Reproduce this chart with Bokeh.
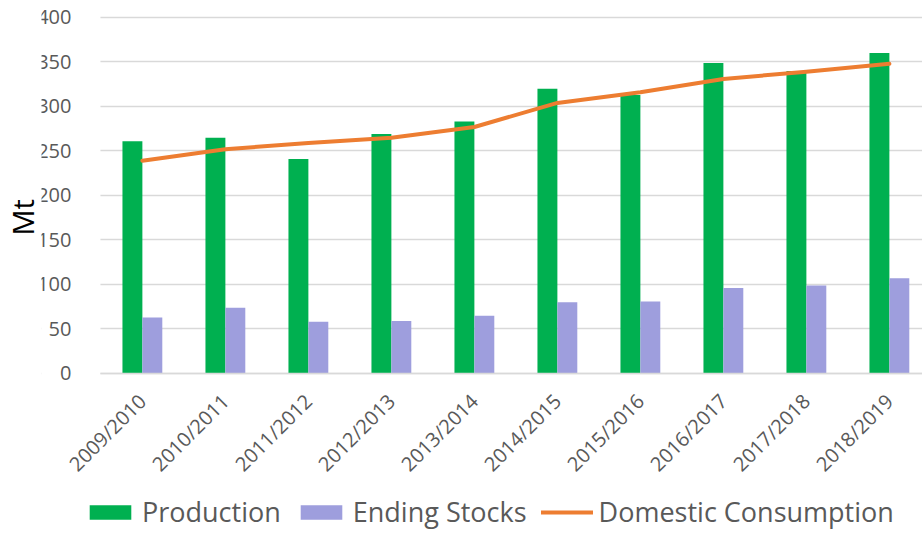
import math
from bokeh.plotting import figure
from bokeh.models import (Range1d, FixedTicker, Legend, LegendItem, ColumnDataSource, Title,
                          BoxAnnotation)
from bokeh.transform import dodge
from bokeh.embed import file_html
from bokeh.resources import INLINE

# ---- data ----
seasons = ["2009/2010", "2010/2011", "2011/2012", "2012/2013", "2013/2014",
           "2014/2015", "2015/2016", "2016/2017", "2017/2018", "2018/2019"]
production = [261, 265, 241, 269, 283, 320, 313, 349, 340, 360]
ending_stocks = [63, 74, 58, 59, 65, 80, 81, 96, 99, 107]
consumption = [239, 252, 259, 265, 277, 304, 316, 331, 339, 348]
y_ticks = [0, 50, 100, 150, 200, 250, 300, 350, 400]

GREEN = "#00B050"
PURPLE = "#9E9EDD"
ORANGE = "#ED7D31"
GRAY_TEXT = "#595959"
GRID = "#D9D9D9"
FONT = "Open Sans"

idx = list(range(len(seasons)))
src = ColumnDataSource(dict(x=idx, prod=production, stock=ending_stocks, cons=consumption))

# plot-area edge (in x data units) where the value axis sits
X_LEFT = -0.505
X_RIGHT = 9.399

p = figure(width=922, height=533, output_backend="svg", toolbar_location=None,
           x_range=Range1d(-1.2154, X_RIGHT), y_range=Range1d(-179.8, 419.1),
           min_border_left=40, min_border_right=0, min_border_top=0, min_border_bottom=0)
p.outline_line_color = None
p.background_fill_color = "white"

p.xgrid.grid_line_color = None
p.ygrid.grid_line_color = GRID
p.ygrid.grid_line_width = 1.5
# keep gridlines out of the value-label column
p.add_layout(BoxAnnotation(right=X_LEFT, fill_color="white", fill_alpha=1.0,
                           line_color=None, level="underlay"))

bw = 0.24
r_prod = p.vbar(x=dodge("x", -bw / 2), top="prod", width=bw, bottom=0, source=src,
                fill_color=GREEN, line_color=None)
r_stock = p.vbar(x=dodge("x", bw / 2), top="stock", width=bw, bottom=0, source=src,
                 fill_color=PURPLE, line_color=None)
r_cons = p.line(x="x", y="cons", source=src, line_color=ORANGE, line_width=4,
                line_cap="round", line_join="round")

# category axis drawn at y = 0
p.xaxis.fixed_location = 0
p.xaxis.bounds = (X_LEFT, X_RIGHT)
p.xaxis.ticker = FixedTicker(ticks=idx)
p.xaxis.major_label_overrides = {i: s for i, s in enumerate(seasons)}
p.xaxis.major_label_orientation = math.pi / 4
p.xaxis.major_label_text_font = FONT
p.xaxis.major_label_text_font_size = "20px"
p.xaxis.major_label_text_color = GRAY_TEXT
p.xaxis.major_label_standoff = 18
p.xaxis.major_tick_line_color = None
p.xaxis.minor_tick_line_color = None
p.xaxis.axis_line_color = GRID
p.xaxis.axis_line_width = 1.5

# value axis drawn at the plot-area edge
p.yaxis.fixed_location = X_LEFT
p.yaxis.ticker = FixedTicker(ticks=y_ticks)
p.yaxis.major_label_text_font = FONT
p.yaxis.major_label_text_font_size = "20px"
p.yaxis.major_label_text_color = GRAY_TEXT
p.yaxis.major_label_standoff = 23
p.yaxis.major_tick_line_color = None
p.yaxis.minor_tick_line_color = None
p.yaxis.axis_line_color = None

p.add_layout(Title(text="Mt", align="left", offset=298, text_font=FONT,
                   text_font_size="29px", text_font_style="normal",
                   text_color="black", standoff=0), "left")

legend = Legend(items=[LegendItem(label="Production", renderers=[r_prod]),
                       LegendItem(label="Ending Stocks", renderers=[r_stock]),
                       LegendItem(label="Domestic Consumption", renderers=[r_cons])],
                orientation="horizontal", location=(43, 3),
                glyph_width=52, glyph_height=18, label_standoff=6, spacing=14,
                padding=0, margin=0, border_line_color=None, background_fill_alpha=0,
                label_text_font=FONT, label_text_font_size="27px",
                label_text_color=GRAY_TEXT)
p.add_layout(legend, "center")

open("out.html", "w").write(file_html(p, INLINE))
